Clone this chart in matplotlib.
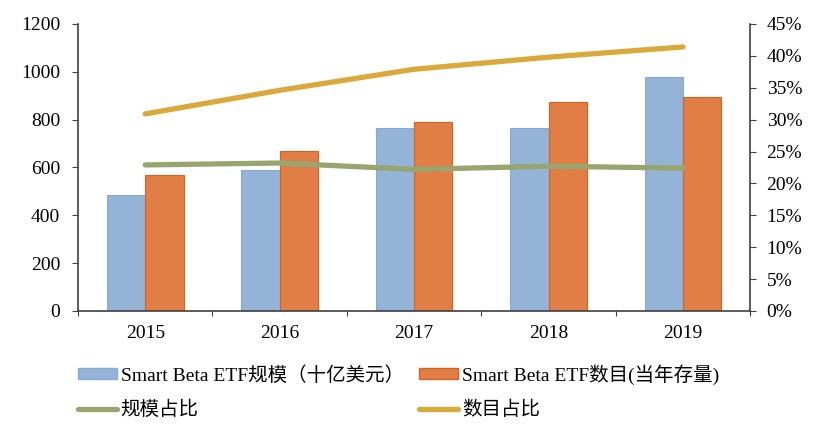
import matplotlib.pyplot as plt
import numpy as np
from matplotlib.patches import Patch
from matplotlib.lines import Line2D
from matplotlib.ticker import FuncFormatter

plt.rcParams['font.family'] = ['Liberation Serif', 'Noto Sans CJK SC']

years = ['2015', '2016', '2017', '2018', '2019']
scale = [484, 588, 765, 765, 980]       # 十亿美元
count = [567, 668, 789, 875, 895]       # 当年存量
scale_share = [22.9, 23.2, 22.2, 22.7, 22.4]
count_share = [30.9, 34.6, 37.9, 39.8, 41.4]

blue = '#95B3D7'
orange = '#E07E45'
green = '#98A56F'
gold = '#DBA83A'

fig = plt.figure(figsize=(8.33, 4.26), dpi=100)
ax = fig.add_axes([0.0936, 0.27, 0.807, 0.6737])
x = np.arange(len(years))
w = 0.285
ax.bar(x - w/2, scale, w, color=blue, edgecolor='#86A9D2', linewidth=0.8)
ax.bar(x + w/2, count, w, color=orange, edgecolor='#D9621E', linewidth=0.8)
ax.set_ylim(0, 1200)
ax.set_xlim(-0.5, 4.5)
ax.set_yticks(range(0, 1201, 200))
ax.set_xticks(np.arange(-0.5, 5, 1))
ax.set_xticklabels([])
ax.set_xticks(x, minor=True)
ax.set_xticklabels(years, minor=True)
ax.tick_params(axis='both', which='both', labelsize=14, color='#404040')
ax.tick_params(axis='x', which='minor', length=0, pad=10)
ax.tick_params(axis='x', which='major', length=3.4, direction='out')
ax.tick_params(axis='y', length=4.3, pad=8.5)
for s in ['top', 'right']:
    ax.spines[s].set_visible(False)
for s in ['left', 'bottom']:
    ax.spines[s].set_color('#404040')
    ax.spines[s].set_linewidth(1.2)

ax2 = ax.twinx()
ax2.plot(x, scale_share, color=green, lw=3.8, solid_capstyle='round')
ax2.plot(x, count_share, color=gold, lw=3.8, solid_capstyle='round')
ax2.set_ylim(0, 45)
ax2.set_yticks(range(0, 46, 5))
ax2.yaxis.set_major_formatter(FuncFormatter(lambda v, p: f'{int(v)}%'))
ax2.tick_params(axis='y', labelsize=14, color='#404040', length=4.3, pad=7.5)
for s in ['top', 'left', 'bottom']:
    ax2.spines[s].set_visible(False)
ax2.spines['right'].set_color('#404040')
ax2.spines['right'].set_linewidth(1.2)

handles = [
    Patch(facecolor=blue, edgecolor='#86A9D2'),
    Line2D([], [], color=green, lw=3.8, solid_capstyle='round'),
    Patch(facecolor=orange, edgecolor='#D9621E'),
    Line2D([], [], color=gold, lw=3.8, solid_capstyle='round'),
]
labels = ['Smart Beta ETF规模（十亿美元）', '规模占比',
          'Smart Beta ETF数目(当年存量)', '数目占比']
fig.legend(handles, labels, ncol=2, loc='upper left', bbox_to_anchor=(0.0936, 0.145),
           frameon=False, fontsize=14, handlelength=2.0, handleheight=0.5,
           handletextpad=0.2, columnspacing=0.8, labelspacing=0.82,
           borderaxespad=0, borderpad=0)

plt.savefig('out.png')
